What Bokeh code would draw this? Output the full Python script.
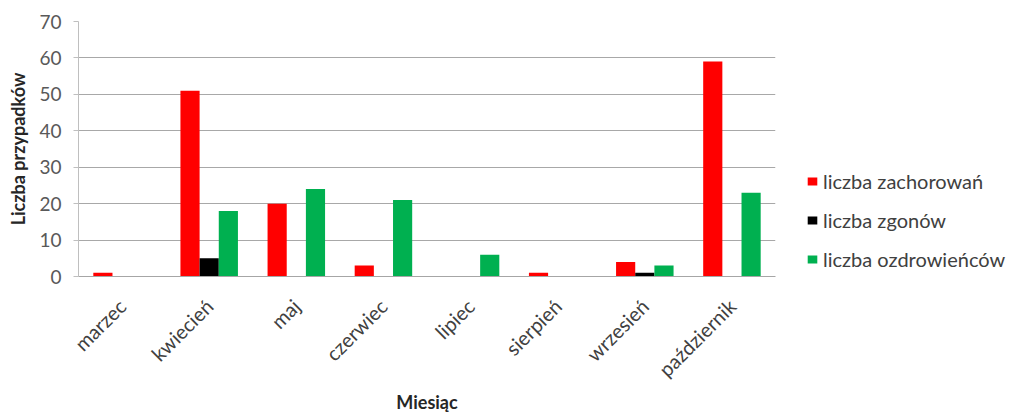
import math
from bokeh.plotting import figure
from bokeh.models import ColumnDataSource, FactorRange, Range1d, Legend
from bokeh.transform import dodge
from bokeh.embed import file_html
from bokeh.resources import INLINE

months = ["marzec", "kwiecień", "maj", "czerwiec", "lipiec", "sierpień", "wrzesień", "październik"]
zachorowania = [1, 51, 20, 3, 0, 1, 4, 59]
zgony = [0, 5, 0, 0, 0, 0, 1, 0]
ozdrowiency = [0, 18, 24, 21, 6, 0, 3, 23]
series_labels = ["liczba zachorowań", "liczba zgonów", "liczba ozdrowieńców"]
y_ticks = [0, 10, 20, 30, 40, 50, 60, 70]

src = ColumnDataSource(data=dict(month=months, zach=zachorowania, zgon=zgony, ozdr=ozdrowiency))

FONT = "Lato"

p = figure(frame_width=697, frame_height=255, x_range=FactorRange(factors=months),
           y_range=Range1d(0, 70), output_backend="svg", toolbar_location=None,
           min_border_left=78, min_border_right=0, min_border_top=21, min_border_bottom=0)
p.outline_line_color = None
p.background_fill_color = "white"
p.border_fill_color = "white"

w = 0.22
cols = [("zach", "#FF0000"), ("zgon", "#000000"), ("ozdr", "#00B050")]
offs = [-w, 0.0, w]
items = []
for (field, color), off, lab in zip(cols, offs, series_labels):
    r = p.vbar(x=dodge("month", off, range=p.x_range), top=field, width=w, source=src,
               fill_color=color, line_color=None)
    items.append((lab, [r]))

# y axis
p.yaxis.ticker = y_ticks
p.yaxis.axis_line_color = "#bfbfbf"
p.yaxis.major_tick_line_color = "#bfbfbf"
p.yaxis.major_tick_out = 5
p.yaxis.major_tick_in = 0
p.yaxis.minor_tick_line_color = None
p.yaxis.major_label_text_font = FONT
p.yaxis.major_label_text_font_size = "19px"
p.yaxis.major_label_text_color = "#595959"
p.yaxis.major_label_standoff = 12
p.yaxis.axis_label = "Liczba przypadków"
p.yaxis.axis_label_text_font = FONT
p.yaxis.axis_label_text_font_size = "18px"
p.yaxis.axis_label_text_font_style = "bold"
p.yaxis.axis_label_text_color = "#262626"
p.yaxis.axis_label_standoff = 7

# x axis
p.xaxis.axis_line_color = "#a6a6a6"
p.xaxis.major_tick_line_color = None
p.xaxis.minor_tick_line_color = None
p.xaxis.major_label_orientation = math.pi / 4
p.xaxis.major_label_text_font = FONT
p.xaxis.major_label_text_font_size = "20px"
p.xaxis.major_label_text_color = "#404040"
p.xaxis.major_label_standoff = 20
p.xaxis.axis_label = "Miesiąc"
p.xaxis.axis_label_text_font = FONT
p.xaxis.axis_label_text_font_size = "18px"
p.xaxis.axis_label_text_font_style = "bold"
p.xaxis.axis_label_text_color = "#262626"
p.xaxis.axis_label_standoff = -2

p.xgrid.grid_line_color = None
p.ygrid.grid_line_color = "#a8a8a8"
p.ygrid.grid_line_width = 1.2

lg = Legend(items=items, location=(31, 5))
lg.border_line_color = None
lg.background_fill_alpha = 0
lg.padding = 0
lg.margin = 0
lg.spacing = 15
lg.glyph_width = 12
lg.glyph_height = 10
lg.label_height = 20
lg.label_standoff = 5
lg.label_text_font = FONT
lg.label_text_font_size = "20px"
lg.label_text_color = "#404040"
p.add_layout(lg, "right")
p.min_border_right = 225

open("out.html", "w").write(file_html(p, INLINE))
